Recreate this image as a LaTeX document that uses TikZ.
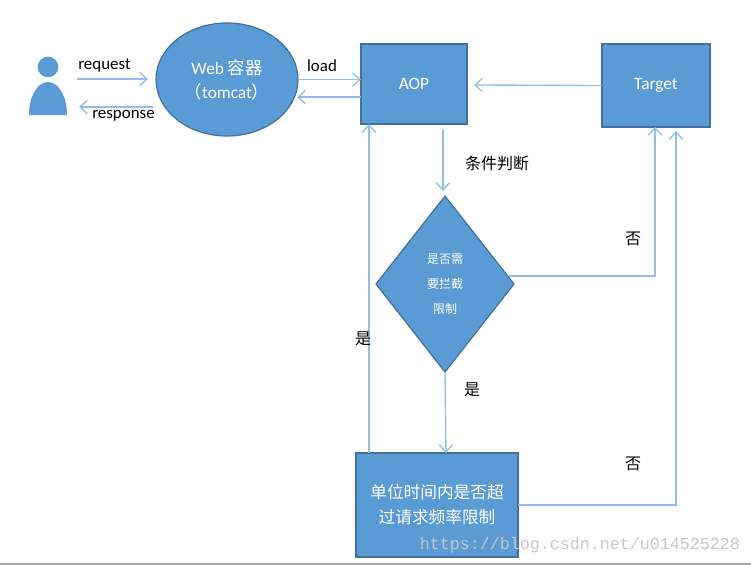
\documentclass[tikz,border=0pt]{standalone}
\usepackage{fontspec}
\setmainfont{Carlito}
\newfontfamily\cjk{Noto Sans CJK SC}
\newfontfamily\wmfont{Liberation Mono}
\usetikzlibrary{shapes.geometric, arrows.meta, positioning}
\definecolor{fillblue}{HTML}{5B9BD5}
\definecolor{edgeblue}{HTML}{41719C}
\definecolor{lineblue}{HTML}{94BDE5}
\tikzstyle{box2} = [rectangle, inner sep=0pt, outer sep=0pt, align=center, line width=1.5pt, draw=edgeblue, fill=fillblue, text=white]
\tikzstyle{web2} = [ellipse, inner sep=0pt, outer sep=0pt, minimum width=106.5pt, minimum height=84.75pt, align=center, line width=0.9pt, draw=edgeblue, fill=fillblue, text=white, font=\fontsize{13}{18}\selectfont]
\tikzstyle{decision2} = [diamond, inner sep=0pt, outer sep=0pt, minimum width=103.5pt, minimum height=132pt, align=center, line width=0.9pt, draw=edgeblue, fill=fillblue, text=white, font=\cjk\fontsize{9}{18.75}\selectfont]
\tikzstyle{note2} = [inner sep=0pt, font=\fontsize{12.7}{14}\selectfont]
\tikzstyle{arrow2} = [line width=1pt, draw=lineblue, -{Straight Barb[length=5.5pt,width=10pt]}]

\begin{document}
\begin{tikzpicture}[x=0.75pt,y=-0.75pt]
            \useasboundingbox (0,0) rectangle (751,565);
            % Nodes
            \node (web) [web2] at (227,79.5) {Web {\cjk 容器}\\{\cjk （}tomcat{\cjk ）}};
            \node (aop) [box2, right of=web, node distance=140.25pt, yshift=-3.4pt, minimum width=79.5pt, minimum height=60pt] {\fontsize{13}{14}\selectfont AOP};
            \node (target) [box2, right of=aop, node distance=181.5pt, yshift=-1.1pt, minimum width=81pt, minimum height=62pt] {\fontsize{13}{14}\selectfont\raisebox{-1pt}{Target}};
            \node (check) [decision2, below of=aop, node distance=150pt, xshift=23.25pt] {是否需\\要拦截\\限制};
            \node (rate) [box2, below of=check, node distance=165.75pt, xshift=-6pt, minimum width=121.5pt, minimum height=78pt, font=\cjk\fontsize{12.5}{18.75}\selectfont] {单位时间内是否超\\过请求频率限制};
            \node (head) [circle, fill=fillblue, inner sep=0pt, minimum size=15.5pt] at (48,67) {};

            % Free ends
            \coordinate (reqstart) at (77,79);
            \coordinate (reqend) at (148,79);
            \coordinate (respstart) at (153,107);
            \coordinate (respend) at (79,107);
            \coordinate (loadback) at (361,97);
            \coordinate (webback) at (297,97);
            \coordinate (checkright) at (509,276);
            \coordinate (targetleft) at (474,85);
            \coordinate (aopdown) at (443,130);
            \coordinate (checkin) at (443,191);
            \coordinate (targetin) at (676,131);

            % Person
            \fill[fillblue] (29,115) .. controls (29,97) and (37,82) .. (48,82) .. controls (59,82) and (67,97) .. (67,115) -- cycle;

            % Edges
            \draw [arrow2] (reqstart) -- (reqend);
            \draw [arrow2] (respstart) -- (respend);
            \draw [arrow2] (web.east) -- (web.east -| aop.west);
            \draw [arrow2] (loadback) -- (webback);
            \draw [arrow2] (target.west) -- (targetleft);
            \draw [arrow2] (aopdown) -- (checkin);
            \draw [arrow2] (check.south) -- (rate.north -| 446,0);
            \draw [arrow2] (checkright) -| (target.south -| 655,0);
            \draw [arrow2] (rate.east) -| (targetin);
            \draw [arrow2] (rate.north -| 369,0) -- (aop.south -| 369,0);

            % Labels
            \node (request) [note2] at (104.5,66) {request};
            \node (response) [note2] at (123.5,116) {response};
            \node (load) [note2] at (322,66) {load};
            \node (cond) [note2, font=\cjk\fontsize{12}{14}\selectfont] at (497,163.5) {条件判断};
            \node (no1) [note2, font=\cjk\fontsize{12}{14}\selectfont] at (633,239) {否};
            \node (yes1) [note2, font=\cjk\fontsize{12}{14}\selectfont] at (363,339) {是};
            \node (yes2) [note2, font=\cjk\fontsize{12}{14}\selectfont] at (472,389.5) {是};
            \node (no2) [note2, font=\cjk\fontsize{12}{14}\selectfont] at (633,464) {否};
            \node (mark) [inner sep=0pt, text=gray!45, font=\wmfont\fontsize{12.5}{14}\selectfont] at (580,545) {https://blog.csdn.net/u014525228};

            \fill[gray!65] (0,563) rectangle (751,565);
        \end{tikzpicture}
\end{document}
